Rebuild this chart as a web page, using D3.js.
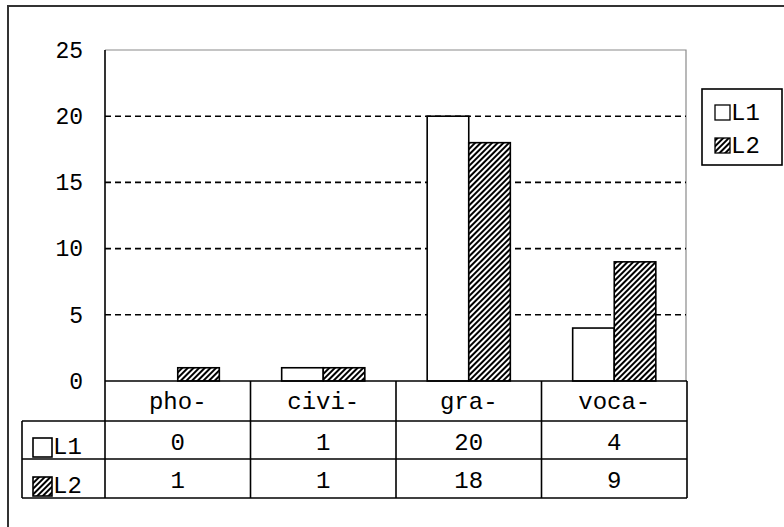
<!DOCTYPE html>
<html>
<head>
<meta charset="utf-8">
<script src="https://cdn.jsdelivr.net/npm/d3@7"></script>
<style>
  body { margin: 0; background: #fff; }
  svg text { font-family: "Liberation Mono", "DejaVu Sans Mono", monospace; fill: #000; }
</style>
</head>
<body>
<div class="chart"></div>
<script>
const categories = ['pho-', 'civi-', 'gra-', 'voca-'];
const seriesNames = ['L1', 'L2'];
const l1Values = [0, 1, 20, 4];
const l2Values = [1, 1, 18, 9];
const yTicks = [0, 5, 10, 15, 20, 25];

const w = 784;
const h = 527;
const plot = { left: 105, right: 687, top: 50, bottom: 381 };
const rowH = [40, 38, 39];
const tableLeft = 22;

const svg = d3.select('.chart')
  .append('svg')
  .attr('width', w)
  .attr('height', h);

// hatch pattern for L2
const defs = svg.append('defs');
const pat = defs.append('pattern')
  .attr('id', 'hatch')
  .attr('patternUnits', 'userSpaceOnUse')
  .attr('width', 4)
  .attr('height', 4)
  .attr('patternTransform', 'rotate(45)');
pat.append('rect').attr('width', 4).attr('height', 4).attr('fill', '#fff');
pat.append('rect').attr('width', 2).attr('height', 4).attr('fill', '#000');

const fills = { L1: '#fff', L2: 'url(#hatch)' };

// outer frame (only top and left visible)
svg.append('path')
  .attr('d', `M8,${h} L8,6 L${w},6`)
  .attr('fill', 'none')
  .attr('stroke', '#333')
  .attr('stroke-width', 2);

const xScale = d3.scaleBand()
  .domain(categories)
  .range([plot.left, plot.right]);

const x1 = d3.scaleBand()
  .domain(seriesNames)
  .range([0, xScale.bandwidth()])
  .paddingOuter(0.75);

const yScale = d3.scaleLinear()
  .domain([0, 25])
  .range([plot.bottom, plot.top]);

// plot area border (grey top and right)
svg.append('path')
  .attr('d', `M${plot.left},${plot.top} L${plot.right - 1},${plot.top} L${plot.right - 1},${plot.bottom}`)
  .attr('fill', 'none')
  .attr('stroke', '#8a8a8a')
  .attr('stroke-width', 1.2);

// gridlines
svg.append('g')
  .selectAll('line')
  .data(yTicks.filter((d) => d > 0 && d < 25))
  .enter()
  .append('line')
  .attr('x1', plot.left)
  .attr('x2', plot.right - 1)
  .attr('y1', (d) => yScale(d))
  .attr('y2', (d) => yScale(d))
  .attr('stroke', '#000')
  .attr('stroke-width', 1.6)
  .attr('stroke-dasharray', '6,4');

// y axis labels
const yAxis = svg.append('g')
  .attr('transform', `translate(${plot.left}, 0)`)
  .call(d3.axisLeft(yScale).tickValues(yTicks).tickSize(0).tickPadding(22));
yAxis.select('.domain').remove();
yAxis.selectAll('text')
  .style('font-size', '23px')
  .style('font-family', '"Liberation Mono", monospace')
  .attr('fill', '#000');

// bars
const bars = [];
categories.forEach((c, i) => {
  bars.push({ cat: c, s: 'L1', v: l1Values[i] });
  bars.push({ cat: c, s: 'L2', v: l2Values[i] });
});

svg.append('g')
  .selectAll('rect')
  .data(bars.filter((d) => d.v > 0))
  .enter()
  .append('rect')
  .attr('x', (d) => xScale(d.cat) + x1(d.s))
  .attr('y', (d) => yScale(d.v))
  .attr('width', x1.bandwidth())
  .attr('height', (d) => yScale(0) - yScale(d.v))
  .attr('fill', (d) => fills[d.s])
  .attr('stroke', '#000')
  .attr('stroke-width', 1.6);

// data table
const rowY = [plot.bottom, plot.bottom + rowH[0], plot.bottom + rowH[0] + rowH[1], plot.bottom + rowH[0] + rowH[1] + rowH[2]];
const table = svg.append('g').attr('stroke', '#000').attr('stroke-width', 1.6);

// y axis line continues down through table
table.append('line')
  .attr('x1', plot.left).attr('x2', plot.left)
  .attr('y1', plot.top).attr('y2', rowY[3]);

table.append('line')
  .attr('x1', plot.left).attr('x2', plot.right)
  .attr('y1', rowY[0]).attr('y2', rowY[0]);

rowY.slice(1).forEach((yy) => {
  table.append('line')
    .attr('x1', tableLeft).attr('x2', plot.right)
    .attr('y1', yy).attr('y2', yy);
});

table.append('line')
  .attr('x1', tableLeft).attr('x2', tableLeft)
  .attr('y1', rowY[1]).attr('y2', rowY[3]);

categories.forEach((c) => {
  const xe = xScale(c) + xScale.bandwidth();
  table.append('line')
    .attr('x1', xe).attr('x2', xe)
    .attr('y1', rowY[0]).attr('y2', rowY[3]);
});

// category labels
svg.append('g')
  .selectAll('text')
  .data(categories)
  .enter()
  .append('text')
  .attr('x', (d) => xScale(d) + xScale.bandwidth() / 2)
  .attr('y', (rowY[0] + rowY[1]) / 2 + 1)
  .attr('text-anchor', 'middle')
  .attr('dominant-baseline', 'central')
  .style('font-size', '24px')
  .text((d) => d);

// table values
[l1Values, l2Values].forEach((vals, r) => {
  svg.append('g')
    .selectAll('text')
    .data(vals)
    .enter()
    .append('text')
    .attr('x', (d, i) => xScale(categories[i]) + xScale.bandwidth() / 2)
    .attr('y', (rowY[r + 1] + rowY[r + 2]) / 2 + 3)
    .attr('text-anchor', 'middle')
    .attr('dominant-baseline', 'central')
    .style('font-size', '24px')
    .text((d) => d);
});

// table row headers
seriesNames.forEach((s, r) => {
  const bottom = rowY[r + 2];
  svg.append('rect')
    .attr('x', 33).attr('y', bottom - 21)
    .attr('width', 19).attr('height', 19)
    .attr('fill', fills[s])
    .attr('stroke', '#000')
    .attr('stroke-width', 1.6);
  svg.append('text')
    .attr('x', 53)
    .attr('y', bottom - 12)
    .attr('dominant-baseline', 'central')
    .style('font-size', '24px')
    .text(s);
});

// legend
const legend = svg.append('g').attr('class', 'legend');
legend.append('rect')
  .attr('x', 702).attr('y', 89)
  .attr('width', 80).attr('height', 76)
  .attr('fill', '#fff')
  .attr('stroke', '#000')
  .attr('stroke-width', 1.6);

legend.selectAll('.key')
  .data(seriesNames)
  .enter()
  .append('rect')
  .attr('class', 'key')
  .attr('x', 715)
  .attr('y', (d, i) => 105 + i * 33)
  .attr('width', 15)
  .attr('height', 15)
  .attr('fill', (d) => fills[d])
  .attr('stroke', '#000')
  .attr('stroke-width', 1.3);

legend.selectAll('text')
  .data(seriesNames)
  .enter()
  .append('text')
  .attr('x', 731)
  .attr('y', (d, i) => 113 + i * 33)
  .attr('dominant-baseline', 'central')
  .style('font-size', '24px')
  .text((d) => d);
</script>
</body>
</html>
